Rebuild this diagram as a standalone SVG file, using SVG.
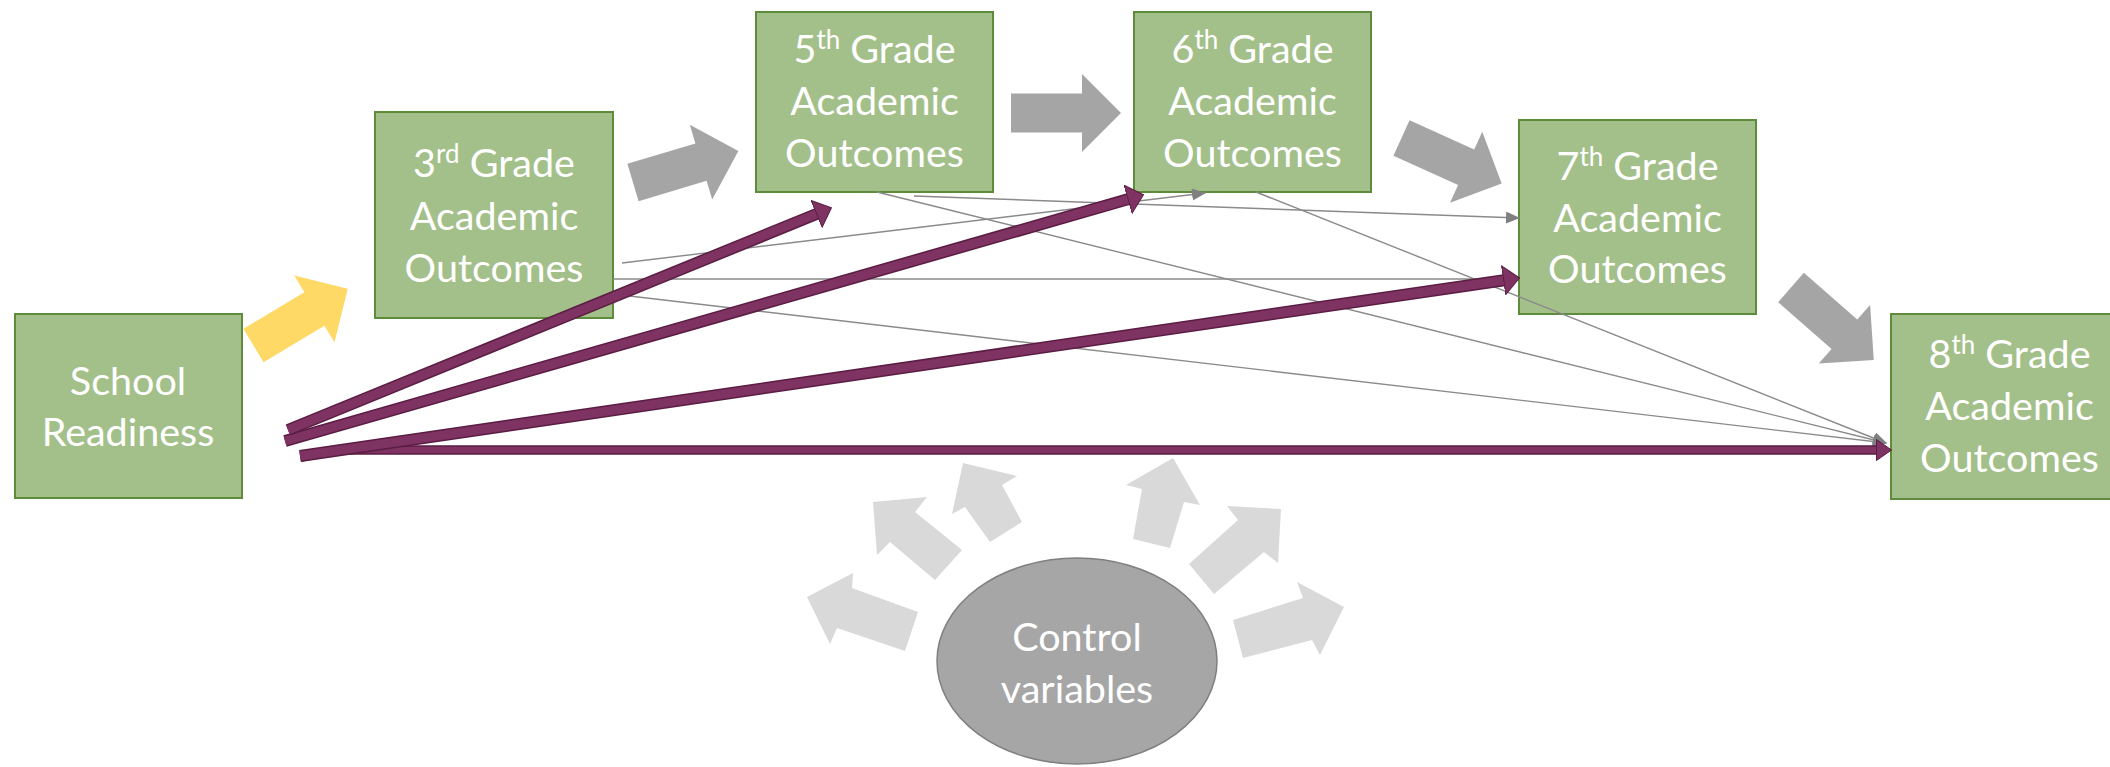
<svg xmlns="http://www.w3.org/2000/svg" width="2110" height="767" viewBox="0 0 2110 767">
<style>
.box{fill:#a4c08a;stroke:#5e8b3c;stroke-width:2}
.lbl{font-family:Lato,"Liberation Sans",sans-serif;font-size:39.5px;fill:#ffffff;text-anchor:middle}
.sup{font-size:26px}
.thin{fill:none;stroke:#8a8a8a;stroke-width:1.4}
.puo{fill:none;stroke:#5b1d43;stroke-width:12}
.pu{fill:none;stroke:#7e3362;stroke-width:9}
.puo4{fill:none;stroke:#5b1d43;stroke-width:9.5}
.pu4{fill:none;stroke:#7e3362;stroke-width:6.5}
.blk{fill:#a5a5a5}
.lgt{fill:#d9d9d9}
.yel{fill:#ffd966}
</style>
<defs>
<path id="barrow" d="M0,-19.5 H71 V-39 L110,0 L71,39 V19.5 H0 Z"/>
<marker id="mg" markerUnits="userSpaceOnUse" markerWidth="14" markerHeight="12" viewBox="0 0 14 12" refX="13" refY="6" orient="auto">
<path d="M0,0 L14,6 L0,12 Z" fill="#808080"/>
</marker>
<marker id="mp" markerUnits="userSpaceOnUse" markerWidth="17" markerHeight="30" viewBox="0 0 17 30" refX="1" refY="15" orient="auto">
<path d="M0.5,0.5 L16.5,15 L0.5,29.5 Z" fill="#7e3362" stroke="#5b1d43" stroke-width="1"/>
</marker>
<marker id="mps" markerUnits="userSpaceOnUse" markerWidth="16" markerHeight="22" viewBox="0 0 16 22" refX="1" refY="11" orient="auto">
<path d="M0.5,0.5 L15.5,11 L0.5,21.5 Z" fill="#7e3362" stroke="#5b1d43" stroke-width="1"/>
</marker>
</defs>

<g id="school-readiness">
<rect class="box" x="15" y="314" width="227" height="184"/>
<text class="lbl" x="128" y="395">School</text>
<text class="lbl" x="128" y="446">Readiness</text>
</g>

<g id="grade3">
<rect class="box" x="375" y="112" width="238" height="206"/>
<text class="lbl" x="494" y="177">3<tspan class="sup" dy="-14">rd</tspan><tspan dy="14"> Grade</tspan></text>
<text class="lbl" x="494" y="230">Academic</text>
<text class="lbl" x="494" y="282">Outcomes</text>
</g>

<g id="grade5">
<rect class="box" x="756" y="12" width="237" height="180"/>
<text class="lbl" x="874.5" y="63">5<tspan class="sup" dy="-14">th</tspan><tspan dy="14"> Grade</tspan></text>
<text class="lbl" x="874.5" y="115">Academic</text>
<text class="lbl" x="874.5" y="167">Outcomes</text>
</g>

<g id="grade6">
<rect class="box" x="1134" y="12" width="237" height="180"/>
<text class="lbl" x="1252.5" y="63">6<tspan class="sup" dy="-14">th</tspan><tspan dy="14"> Grade</tspan></text>
<text class="lbl" x="1252.5" y="115">Academic</text>
<text class="lbl" x="1252.5" y="167">Outcomes</text>
</g>

<g id="grade7">
<rect class="box" x="1519" y="120" width="237" height="194"/>
<text class="lbl" x="1637.5" y="180">7<tspan class="sup" dy="-14">th</tspan><tspan dy="14"> Grade</tspan></text>
<text class="lbl" x="1637.5" y="232">Academic</text>
<text class="lbl" x="1637.5" y="283">Outcomes</text>
</g>

<g id="grade8">
<rect class="box" x="1891" y="314" width="237" height="185"/>
<text class="lbl" x="2009.5" y="368">8<tspan class="sup" dy="-14">th</tspan><tspan dy="14"> Grade</tspan></text>
<text class="lbl" x="2009.5" y="420">Academic</text>
<text class="lbl" x="2009.5" y="472">Outcomes</text>
</g>

<g id="control-variables">
<ellipse cx="1077" cy="661" rx="140" ry="103" fill="#a6a6a6" stroke="#7f7f7f" stroke-width="1.5"/>
<text class="lbl" x="1077" y="651">Control</text>
<text class="lbl" x="1077" y="703">variables</text>
</g>

<g id="connectors">
<!-- block arrows between grades -->
<use href="#barrow" class="yel" transform="translate(253.5,345.5) rotate(-31)"/>
<use href="#barrow" class="blk" transform="translate(633,182.5) rotate(-16.7)"/>
<use href="#barrow" class="blk" transform="translate(1011,113)"/>
<use href="#barrow" class="blk" transform="translate(1401.5,138) rotate(24.4)"/>
<use href="#barrow" class="blk" transform="translate(1791,287.5) rotate(41.2)"/>

<!-- thin gray paths -->
<line class="thin" x1="622" y1="263" x2="1205" y2="193" marker-end="url(#mg)"/>
<line class="thin" x1="613" y1="279" x2="1519" y2="279" marker-end="url(#mg)"/>
<line class="thin" x1="621" y1="295" x2="1886" y2="443" marker-end="url(#mg)"/>
<line class="thin" x1="914" y1="196" x2="1519" y2="218" marker-end="url(#mg)"/>
<line class="thin" x1="877" y1="192" x2="1886" y2="443" marker-end="url(#mg)"/>
<line class="thin" x1="1256" y1="192" x2="1886" y2="443" marker-end="url(#mg)"/>

<!-- purple paths from School Readiness -->
<path class="puo4" d="M301,457 L340,450 L1877,450"/>
<path class="pu4" d="M301,457 L340,450 L1877,450" marker-end="url(#mps)"/>
<line class="puo" x1="300" y1="456" x2="1504.2" y2="280.2"/>
<line class="pu" x1="300" y1="456" x2="1504.2" y2="280.2" marker-end="url(#mp)"/>
<line class="puo" x1="285" y1="441" x2="1128.6" y2="199.1"/>
<line class="pu" x1="285" y1="441" x2="1128.6" y2="199.1" marker-end="url(#mp)"/>
<line class="puo" x1="288" y1="430" x2="817.1" y2="213.7"/>
<line class="pu" x1="288" y1="430" x2="817.1" y2="213.7" marker-end="url(#mp)"/>

<!-- light gray arrows from control variables -->
<polygon class="lgt" points="918,612 852,588 853,573 807,597 830,644 837,628 905,651"/>
<polygon class="lgt" points="962,550 915,512 927,497 873,502 877,555 890,542 935,580"/>
<polygon class="lgt" points="1022,522 1002,485 1017,476 963,463 952,514 965,507 990,542"/>
<polygon class="lgt" points="1133,539 1142,489 1126,485 1173,458 1200,505 1184,502 1170,548"/>
<polygon class="lgt" points="1189,564 1238,520 1227,506 1281,509 1278,563 1264,552 1214,594"/>
<polygon class="lgt" points="1233,620 1303,598 1297,582 1344,607 1320,655 1312,640 1243,658"/>
</g>
</svg>
